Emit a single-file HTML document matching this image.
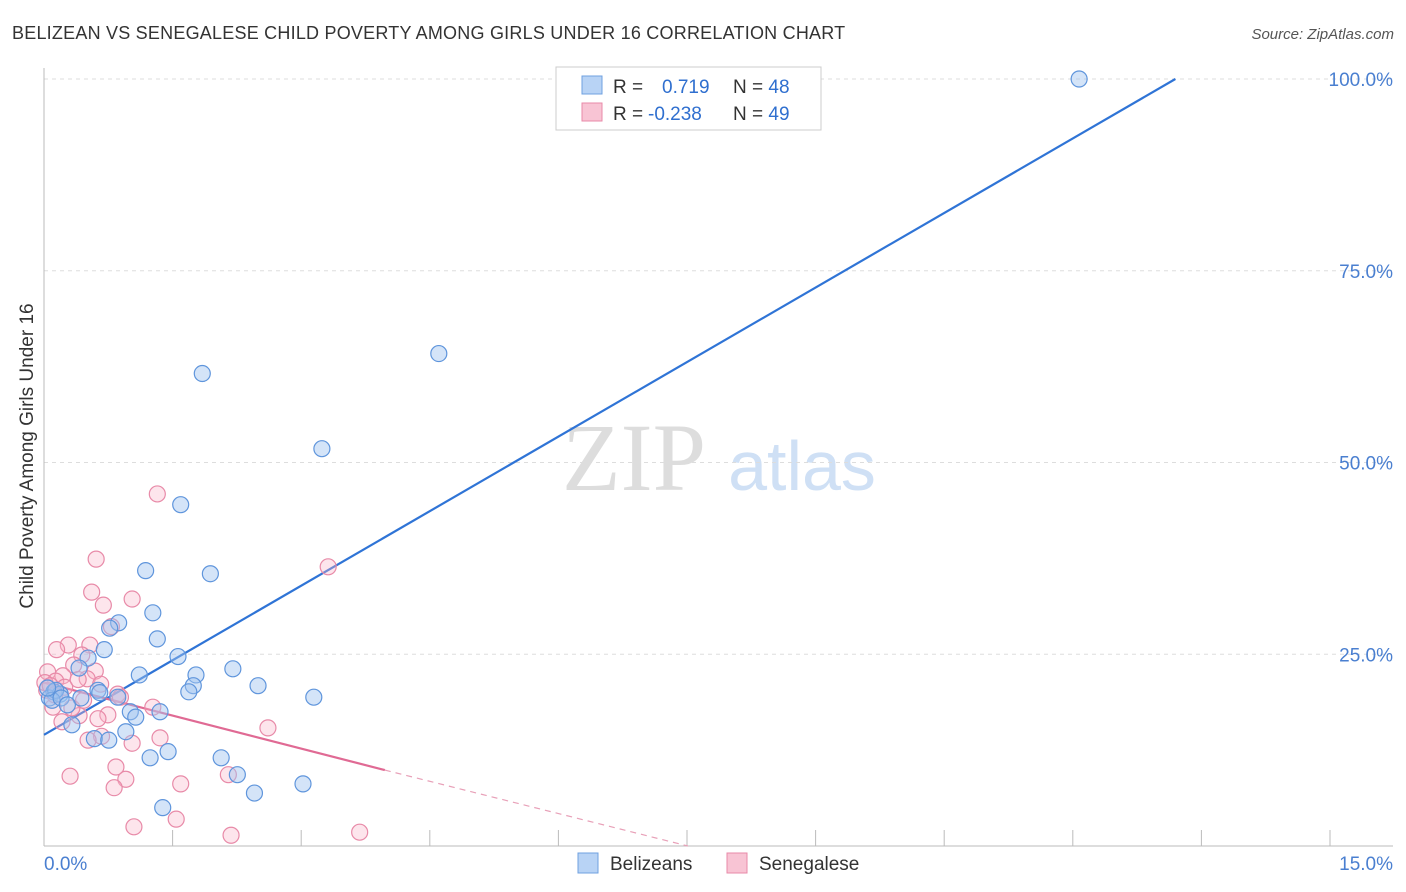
<!DOCTYPE html>
<html><head><meta charset="utf-8">
<style>
body{margin:0;background:#fff;font-family:"Liberation Sans",sans-serif;}
svg{display:block}
</style></head>
<body>
<svg id="chart" width="1406" height="892">
<text x="12" y="39" font-size="18" letter-spacing="0.22" fill="#333">BELIZEAN VS SENEGALESE CHILD POVERTY AMONG GIRLS UNDER 16 CORRELATION CHART</text>
<text x="1394" y="39" font-size="15" fill="#555" font-style="italic" text-anchor="end">Source: ZipAtlas.com</text>
<text x="0" y="0" transform="translate(33,456) rotate(-90)" font-size="19" fill="#333" text-anchor="middle">Child Poverty Among Girls Under 16</text>
<g><text x="634" y="490" font-family="Liberation Serif,serif" font-size="96" fill="#ddd" text-anchor="middle">ZIP</text><text x="802" y="490" font-size="70" fill="#cfe0f5" text-anchor="middle">atlas</text></g>
<g id="grid"></g><g id="axes"></g><g id="lines"></g><g id="pts"></g>
<g>
<rect x="556" y="67" width="265" height="63" fill="#fff" stroke="#ccc"/>
<rect x="582" y="76" width="20" height="18" fill="#b8d3f5" stroke="#6fa0e0"/>
<rect x="582" y="103" width="20" height="18" fill="#f8c4d4" stroke="#e88aa8"/>
<text x="613" y="93" font-size="19" fill="#333">R = <tspan fill="#2f6fcf" x="662">0.719</tspan><tspan x="733">N = </tspan><tspan fill="#2f6fcf">48</tspan></text>
<text x="613" y="120" font-size="19" fill="#333">R = <tspan fill="#2f6fcf" x="648">-0.238</tspan><tspan x="733">N = </tspan><tspan fill="#2f6fcf">49</tspan></text>
</g>
<g>
<rect x="578" y="853" width="20" height="20" fill="#b8d3f5" stroke="#6fa0e0"/>
<text x="610" y="870" font-size="19" fill="#333">Belizeans</text>
<rect x="727" y="853" width="20" height="20" fill="#f8c4d4" stroke="#e88aa8"/>
<text x="759" y="870" font-size="19" fill="#333">Senegalese</text>
</g>
</svg>
<script>
const blueX=[11.51,4.39,1.76,3.09,1.52,1.13,1.85,1.21,0.83,1.26,0.67,0.49,1.49,1.06,2.10,1.69,2.38,1.66,1.61,3.00,0.11,0.06,0.18,0.60,0.39,0.41,0.73,0.96,1.02,1.29,0.91,0.56,0.72,0.31,1.38,1.18,1.97,2.15,2.34,2.88,1.32,0.13,0.09,0.19,0.26,0.82,0.62,0.04];
const blueY=[100,64.2,61.6,51.8,44.5,35.9,35.5,30.4,29.1,27.0,25.6,24.5,24.7,22.3,23.1,22.3,20.9,20.9,20.1,19.4,20.1,19.3,19.8,20.3,23.2,19.3,28.4,17.5,16.8,17.5,14.9,14.0,13.8,15.8,12.3,11.5,11.5,9.3,6.9,8.1,5.0,20.3,19.0,19.3,18.4,19.4,20.0,20.6];
const pinkX=[1.26,0.58,3.16,0.53,0.66,0.98,0.75,0.27,0.51,0.14,0.42,0.33,0.57,0.04,0.21,0.48,0.63,0.13,0.03,0.82,1.21,0.71,0.39,0.20,0.64,0.98,1.29,0.49,0.80,0.29,0.91,0.78,1.52,2.05,2.49,1.00,1.47,2.08,3.51,0.10,0.31,0.23,0.01,0.07,0.60,0.12,0.38,0.44,0.85];
const pinkY=[45.9,37.4,36.4,33.1,31.4,32.2,28.6,26.2,26.2,25.6,24.9,23.6,22.8,22.7,22.2,21.8,21.1,21.5,20.3,19.8,18.1,17.1,17.0,16.2,14.3,13.4,14.1,13.8,10.3,9.1,8.7,7.6,8.1,9.3,15.4,2.5,3.5,1.4,1.8,18.1,18.0,20.7,21.3,20.9,16.6,19.7,21.7,19.0,19.4];
const blueTrend=[[0,14.5],[12.58,100]];
const pinkTrend=[[0,21.3],[3.79,9.9]];
const pinkTrendExt=[[3.79,9.9],[7.16,0]];
const yTicks=[25,50,75,100];
const yTickLabels=["25.0%","50.0%","75.0%","100.0%"];
const xLabels=["0.0%","15.0%"];
const X0=44,X1=1393,Y0=846,Y100=79;
const sx=v=>X0+(X1-X0)*v/15, sy=v=>Y0-(Y0-Y100)*v/100;
const NS="http://www.w3.org/2000/svg";
function mk(p,t,a){const e=document.createElementNS(NS,t);for(const k in a)e.setAttribute(k,a[k]);p.appendChild(e);return e;}
const grid=document.getElementById('grid'),axes=document.getElementById('axes'),lines=document.getElementById('lines'),pts=document.getElementById('pts');
yTicks.forEach((t,i)=>{
 const l=mk(grid,'line',{x1:X0,x2:X1,y1:sy(t),y2:sy(t),stroke:'#ddd','stroke-dasharray':'4,4'});
 
 
 const tx=mk(axes,'text',{x:1393,y:sy(t)+7,'font-size':19,fill:'#4a7fd0','text-anchor':'end'});tx.textContent=yTickLabels[i];
 
 
});
const ax=mk(axes,'line',{x1:X0,x2:X1,y1:Y0,y2:Y0,stroke:'#bbb'});


const ay=mk(axes,'line',{x1:X0,x2:X0,y1:68,y2:Y0,stroke:'#bbb'});


for(let i=0;i<=10;i++){const x=X0+i*128.6;const t=mk(axes,'line',{x1:x,x2:x,y1:Y0,y2:Y0-16,stroke:'#bbb'});
 
 }
const xl0=mk(axes,'text',{x:44,y:870,'font-size':19,fill:'#4a7fd0'});xl0.textContent=xLabels[0];


const xl1=mk(axes,'text',{x:1393,y:870,'font-size':19,fill:'#4a7fd0','text-anchor':'end'});xl1.textContent=xLabels[1];


function dots(xs,ys,fill,stroke,name){xs.forEach((v,i)=>{const c=mk(pts,'circle',{cx:sx(v),cy:sy(ys[i]),r:8,fill:fill,stroke:stroke,'stroke-width':1.2});
 
 });}
dots(pinkX,pinkY,'rgba(248,180,200,0.35)','#e88aa8','senegalese-point');
dots(blueX,blueY,'rgba(160,196,240,0.45)','#5f95dc','belizean-point');
function ln(p,stroke,w,dash,name){const l=mk(lines,'line',{x1:sx(p[0][0]),y1:sy(p[0][1]),x2:sx(p[1][0]),y2:sy(p[1][1]),stroke:stroke,'stroke-width':w});if(dash)l.setAttribute('stroke-dasharray',dash);
 
 }
ln(blueTrend,'#2f74d6',2.2,null,'belizean-trendline');
ln(pinkTrend,'#e06a94',2.2,null,'senegalese-trendline');
ln(pinkTrendExt,'#e8a0b8',1.2,'6,5','senegalese-trendline-extension');
</script>
</body></html>
